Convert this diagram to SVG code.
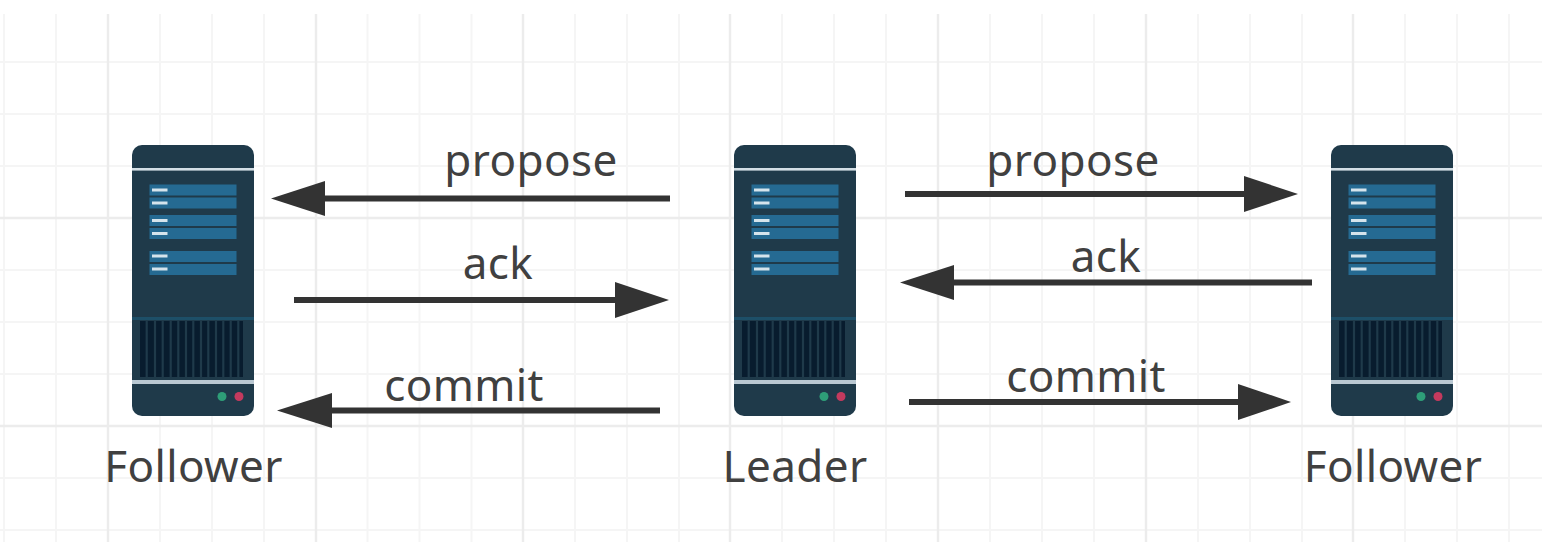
<svg xmlns="http://www.w3.org/2000/svg" width="1542" height="542" viewBox="0 0 1542 542">
<style>
text{font-family:"Noto Sans","Open Sans","Liberation Sans",sans-serif;font-size:44px;letter-spacing:.4px;fill:#404040;text-anchor:middle}
.g{stroke:#f5f5f5;stroke-width:2;fill:none}
.G{stroke:#ececec;stroke-width:2.4;fill:none}
.c{stroke:#333;stroke-width:6;fill:none;stroke-linecap:butt}
.h{fill:#333}
.b{fill:#1f3a4a}
.r{fill:#256a92}
.w{fill:#d5e4ec}
.l{fill:#b9c8d2}
.v{fill:#081c2e}
</style>
<defs>
<g id="server">
<rect class="b" x="0" y="0" width="122" height="271" rx="10"/>
<rect x="0" y="23" width="122" height="2.600" fill="#d3dee5"/>
<rect class="r" x="17.500" y="39.500" width="87" height="11"/>
<rect class="r" x="17.500" y="52.500" width="87" height="11"/>
<rect class="r" x="17.500" y="70" width="87" height="11"/>
<rect class="r" x="17.500" y="83" width="87" height="11"/>
<rect class="r" x="17.500" y="106" width="87" height="11"/>
<rect class="r" x="17.500" y="119" width="87" height="11"/>
<rect class="w" x="20" y="43.500" width="15.500" height="3"/>
<rect class="w" x="20" y="56.500" width="15.500" height="3"/>
<rect class="w" x="20" y="74" width="15.500" height="3"/>
<rect class="w" x="20" y="87" width="15.500" height="3"/>
<rect class="w" x="20" y="109.500" width="15.500" height="3"/>
<rect class="w" x="20" y="122.500" width="15.500" height="3"/>
<rect x="0" y="172" width="122" height="3" fill="#1d4f68"/>
<rect class="v" x="8" y="176" width="103" height="56"/>
<path d="M14.700 176v56M23 176v56M30.700 176v56M38.700 176v56M46.300 176v56M54 176v56M61.300 176v56M69 176v56M76.300 176v56M84 176v56M91.300 176v56M98.700 176v56M106.300 176v56" stroke="#1f3a4a" stroke-width="2.200" fill="none"/>
<rect class="l" x="0" y="235" width="122" height="4"/>
<circle cx="90" cy="251.500" r="4.500" fill="#2e9e78"/>
<circle cx="107" cy="251.500" r="4.500" fill="#c43a5e"/>
</g>
</defs>
<rect width="1542" height="542" fill="#fff"/>
<g id="grid">
<path class="g" d="M4 14V542M56 14V542M160 14V542M212 14V542M264 14V542M367.500 14V542M419.500 14V542M471.500 14V542M575 14V542M627 14V542M679 14V542M782 14V542M834 14V542M886 14V542M990 14V542M1042 14V542M1094 14V542M1198 14V542M1250 14V542M1302 14V542M1405 14V542M1457 14V542M1509 14V542M0 62H1542M0 114H1542M0 166H1542M0 270H1542M0 322H1542M0 374H1542M0 478H1542M0 530H1542"/>
<path class="G" d="M108 14V542M316 14V542M523 14V542M730 14V542M938 14V542M1146 14V542M1353 14V542M0 218H1542M0 426H1542"/>
</g>
<g id="connectors">
<path class="c" d="M670 198.500H320"/><polygon class="h" points="271,198.500 325,181 325,216"/>
<path class="c" d="M294 300H620"/><polygon class="h" points="669,300 615,282 615,318"/>
<path class="c" d="M660 410.500H328"/><polygon class="h" points="277,410.500 332,393 332,428"/>
<path class="c" d="M905 194H1250"/><polygon class="h" points="1298,194 1244,176 1244,212"/>
<path class="c" d="M1312 282.500H950"/><polygon class="h" points="900,282.500 954,265 954,300"/>
<path class="c" d="M909 402H1245"/><polygon class="h" points="1291,402 1238,384 1238,420"/>
</g>
<g id="labels">
<text x="531" y="176">propose</text>
<text x="498" y="279">ack</text>
<text x="464" y="401">commit</text>
<text x="1073" y="176">propose</text>
<text x="1106" y="272">ack</text>
<text x="1086" y="392">commit</text>
</g>
<g id="follower-left"><use href="#server" x="132" y="145"/><text x="193.500" y="482">Follower</text></g>
<g id="leader"><use href="#server" x="734" y="145"/><text x="795" y="482">Leader</text></g>
<g id="follower-right"><use href="#server" x="1331" y="145"/><text x="1393" y="482">Follower</text></g>
</svg>
